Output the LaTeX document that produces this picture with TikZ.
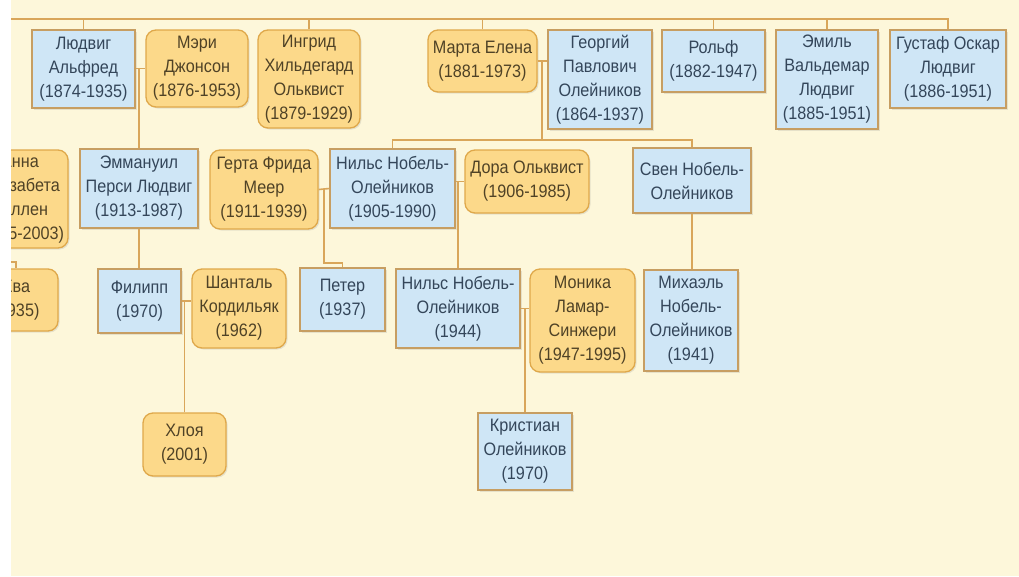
\documentclass[tikz,border=0pt]{standalone}
\usepackage{fontspec}
\setmainfont[FakeStretch=0.9]{Liberation Sans}
\usetikzlibrary{shadows}

\definecolor{bgcream}{HTML}{FDF7DA}
\definecolor{linebrown}{HTML}{D9A65A}
\definecolor{bluefill}{HTML}{CFE6F6}
\definecolor{blueedge}{HTML}{C79E62}
\definecolor{bluetext}{HTML}{34465A}
\definecolor{yelfill}{HTML}{FCD98A}
\definecolor{yeledge}{HTML}{DFA84A}
\definecolor{yeltext}{HTML}{4F4226}

\begin{document}
\begin{tikzpicture}[x=1pt, y=-1pt,
    link/.style={draw=linebrown, line width=1.6pt},
    person/.style={align=center, inner sep=0pt, line width=1.3pt,
        font=\fontsize{18}{24}\selectfont,
        drop shadow={shadow xshift=1.5pt, shadow yshift=-1.5pt, opacity=0.18}},
    male/.style={person, draw=blueedge, fill=bluefill, text=bluetext},
    female/.style={person, draw=yeledge, fill=yelfill, text=yeltext, rounded corners=10pt}]

    % Background
    \fill[white] (0,0) rectangle (1019,576);
    \fill[bgcream] (11,0) rectangle (1019,576);

    \begin{scope}
    \clip (11,0) rectangle (1019,576);

    % First row
    \node[male, minimum width=103pt, minimum height=78pt] (ludvig) at (83.5,69) {Людвиг\\Альфред\\(1874-1935)};
    \node[female, minimum width=102pt, minimum height=77pt] (meri) at (197,68.5) {Мэри\\Джонсон\\(1876-1953)};
    \node[female, minimum width=102pt, minimum height=98pt] (ingrid) at (309,79) {Ингрид\\Хильдегард\\Ольквист\\(1879-1929)};
    \node[female, minimum width=109pt, minimum height=62pt] (marta) at (482.5,61) {Марта Елена\\(1881-1973)};
    \node[male, minimum width=104pt, minimum height=99pt] (georgy) at (600,79.5) {Георгий\\Павлович\\Олейников\\(1864-1937)};
    \node[male, minimum width=103pt, minimum height=62pt] (rolf) at (713.5,61) {Рольф\\(1882-1947)};
    \node[male, minimum width=102pt, minimum height=99pt] (emil) at (827,79.5) {Эмиль\\Вальдемар\\Людвиг\\(1885-1951)};
    \node[male, minimum width=116pt, minimum height=78pt] (gustaf) at (948,69) {Густаф Оскар\\Людвиг\\(1886-1951)};

    % Second row
    \node[female, minimum width=96pt, minimum height=98pt] (anna) at (20,199) {Анна\\Елизабета\\Хеллен\\(1915-2003)};
    \node[male, minimum width=118pt, minimum height=79pt] (emmanuil) at (139,188.5) {Эммануил\\Перси Людвиг\\(1913-1987)};
    \node[female, minimum width=108pt, minimum height=79pt] (gerta) at (264,189.5) {Герта Фрида\\Меер\\(1911-1939)};
    \node[male, minimum width=125pt, minimum height=79pt] (nils) at (392.5,188.5) {Нильс Нобель-\\Олейников\\(1905-1990)};
    \node[female, minimum width=124pt, minimum height=63pt] (dora) at (527,181.5) {Дора Ольквист\\(1906-1985)};
    \node[male, minimum width=118pt, minimum height=65pt] (sven) at (692,180.5) {Свен Нобель-\\Олейников};

    % Third row
    \node[female, minimum width=84pt, minimum height=62pt] (eva) at (16,300) {Ева\\(1935)};
    \node[male, minimum width=83pt, minimum height=64pt] (filipp) at (139.5,301) {Филипп\\(1970)};
    \node[female, minimum width=94pt, minimum height=79pt] (shantal) at (239,308.5) {Шанталь\\Кордильяк\\(1962)};
    \node[male, minimum width=85pt, minimum height=63pt] (peter) at (342.5,299.5) {Петер\\(1937)};
    \node[male, minimum width=124pt, minimum height=79pt] (nilsjr) at (458,308.5) {Нильс Нобель-\\Олейников\\(1944)};
    \node[female, minimum width=105pt, minimum height=103pt] (monika) at (582.5,320.5) {Моника\\Ламар-\\Синжери\\(1947-1995)};
    \node[male, minimum width=94pt, minimum height=101pt] (mikhail) at (691,320.5) {Михаэль\\Нобель-\\Олейников\\(1941)};

    % Fourth row
    \node[female, minimum width=83pt, minimum height=63pt] (chloe) at (184.5,444.5) {Хлоя\\(2001)};
    \node[male, minimum width=94pt, minimum height=77pt] (kristian) at (525,451.5) {Кристиан\\Олейников\\(1970)};

    % Top line
    \coordinate (topleft) at (11,19);
    \draw[link] (topleft) -| (gustaf.north);
    \foreach \n in {ludvig,ingrid,marta,rolf,emil}
        \draw[link] (\n.north) -- (\n.north |- topleft);

    % Couples and children
    \draw[link] (ludvig.east |- meri.west) -- (meri.west);
    \draw[link] (emmanuil.north) -- (emmanuil.north |- meri.west);
    \draw[link] (emmanuil.south) -- (emmanuil.south |- filipp.north);

    \draw[link] (marta.east) -- (marta.east -| georgy.west);
    \coordinate (mg) at (542,61);
    \draw[link] (mg) -- ++(0,79) coordinate (bus);
    \draw[link] (nils.north) |- (bus) -| (sven.north);

    \path (gerta.east) -- (nils.west) coordinate[midway] (gn);
    \draw[link] (gerta.east) -- (nils.west);
    \draw[link] (gn) -- ++(0,74) -| (peter.north);

    \draw[link] (nils.east |- dora.west) -- (dora.west);
    \draw[link] (nilsjr.north) -- (nilsjr.north |- dora.west);

    \draw[link] (sven.south) -- (sven.south |- mikhail.north);

    \draw[link] (filipp.east) -- (filipp.east -| shantal.west);
    \draw[link] (chloe.north) -- (chloe.north |- filipp.east);

    \draw[link] (nilsjr.east) -- (nilsjr.east -| monika.west);
    \draw[link] (kristian.north) -- (kristian.north |- nilsjr.east);

    \coordinate (evalink) at (11,262);
    \draw[link] (evalink) -| (eva.north);
    \end{scope}
\end{tikzpicture}
\end{document}
